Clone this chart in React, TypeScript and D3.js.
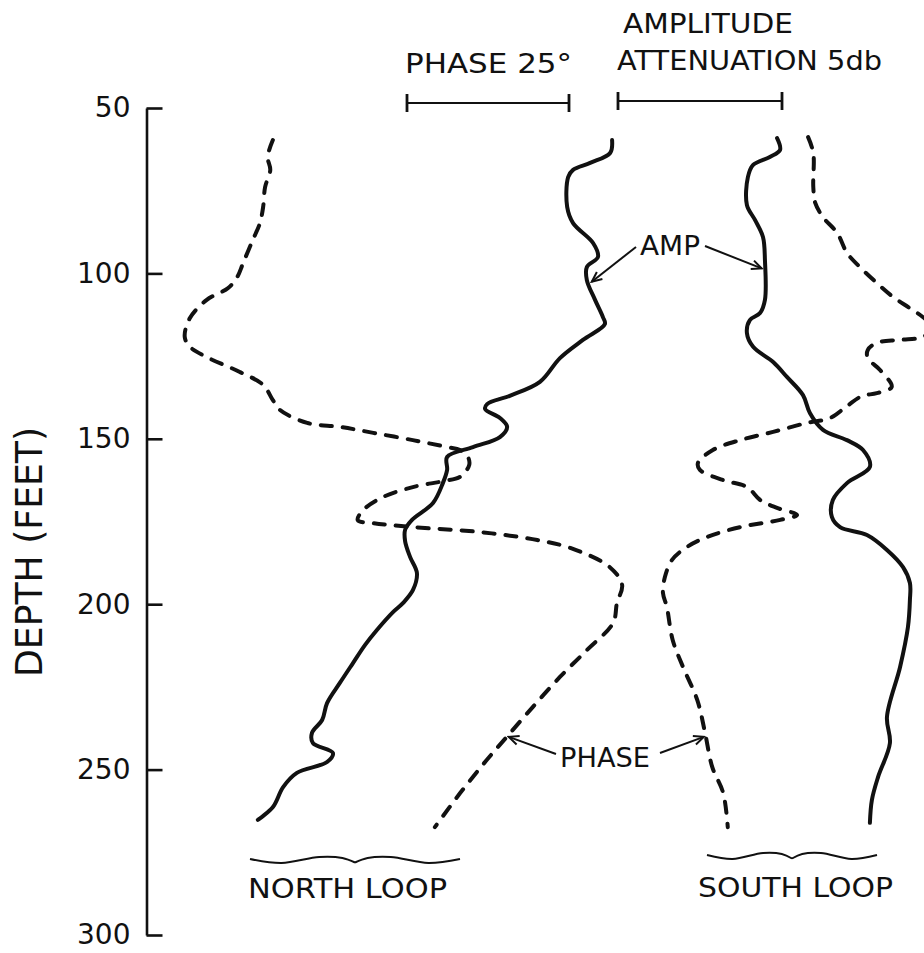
import React, { useEffect, useRef } from "react";
import * as d3 from "d3";

// Depth axis (feet)
const DEPTH_TICKS = [50, 100, 150, 200, 250, 300];

// Each profile: [depth (ft), value]. Amplitude in dB, phase in degrees (relative).
const northAmp: [number, number][] = [
  [59.7, -0.18], [63.6, -0.24], [66.6, -0.85], [68.7, -1.37], [70.9, -1.52],
  [79.9, -1.55], [84.8, -1.37], [90.8, -0.76], [95.0, -0.61], [98.1, -0.95],
  [102.0, -0.95], [108.0, -0.7], [113.2, -0.46], [115.3, -0.4], [120.1, -1.07],
  [125.6, -1.77], [132.8, -2.38], [137.0, -3.3], [139.5, -3.99], [141.0, -4.05],
  [143.7, -3.6], [146.4, -3.38], [149.5, -3.6], [152.5, -4.42], [155.5, -5.21],
  [159.4, -5.21], [163.4, -5.34], [169.4, -5.64], [174.5, -6.28], [177.5, -6.49],
  [181.0, -6.49], [185.7, -6.34], [190.6, -6.13], [195.7, -6.25], [199.6, -6.55],
  [202.4, -6.86], [207.8, -7.35], [212.3, -7.71], [217.8, -8.08], [223.8, -8.48],
  [229.9, -8.87], [235.0, -9.02], [238.9, -9.33], [242.0, -9.3], [245.0, -8.69],
  [247.7, -8.87], [251.0, -9.79], [255.3, -10.21], [261.3, -10.52], [265.2, -10.98],
];

const northPhase: [number, number][] = [
  [59.7, -20.7], [64.8, -21.5], [68.7, -21.1], [73.9, -21.9], [79.9, -22.2],
  [84.8, -22.7], [89.9, -23.8], [96.9, -25.3], [101.1, -26.2], [104.4, -27.6],
  [108.0, -30.9], [113.5, -33.5], [119.2, -34.3], [122.2, -33.5], [125.3, -30.9],
  [129.8, -25.8], [133.7, -22.2], [138.3, -20.7], [141.3, -19.6], [145.2, -15.4],
  [146.4, -10.3], [148.2, -5.2], [150.4, 0.9], [152.5, 6.2], [153.4, 8.2],
  [155.5, 9.4], [157.9, 9.6], [161.5, 8.2], [162.8, 5.6], [164.6, 0.9],
  [167.6, -3.7], [171.6, -6.8], [174.6, -7.6], [175.5, -5.2], [176.7, 0.9],
  [178.2, 11.3], [180.6, 20.1], [183.0, 25.2], [188.8, 31.3], [194.2, 33.2],
  [199.6, 32.4], [205.7, 31.8], [213.8, 27.8], [222.0, 23.6], [231.1, 19.4],
  [240.1, 15.4], [247.1, 12.3], [257.1, 8.2], [267.4, 4.3],
];

const southAmp: [number, number][] = [
  [59.1, 4.85], [62.7, 4.94], [64.8, 4.63], [67.2, 4.12], [70.9, 3.96],
  [79.3, 3.93], [83.9, 4.18], [89.0, 4.42], [96.0, 4.48], [108.0, 4.48],
  [112.0, 4.33], [114.1, 4.02], [118.0, 3.93], [122.2, 4.12], [126.8, 4.73],
  [131.3, 5.15], [136.8, 5.64], [142.2, 5.85], [147.3, 6.25], [150.4, 6.98],
  [153.4, 7.47], [158.5, 7.68], [163.4, 6.98], [168.5, 6.55], [173.6, 6.52],
  [176.7, 6.77], [179.1, 7.59], [183.6, 8.2], [188.8, 8.69], [193.6, 8.9],
  [198.7, 8.9], [206.9, 8.84], [219.0, 8.6], [234.1, 8.2], [242.0, 8.29],
  [252.2, 7.93], [259.2, 7.74], [266.1, 7.68],
];

const southPhase: [number, number][] = [
  [58.8, 61.9], [63.6, 62.7], [73.9, 62.7], [78.7, 63.0], [83.0, 64.2],
  [87.8, 66.4], [93.8, 67.9], [98.1, 69.9], [102.9, 72.5], [107.1, 75.0],
  [110.5, 77.6], [113.2, 79.6], [116.2, 81.2], [119.2, 79.6], [120.1, 76.1],
  [121.0, 72.5], [123.2, 71.1], [125.6, 71.1], [129.2, 73.0], [134.3, 74.8],
  [136.2, 72.5], [137.1, 70.2], [140.1, 67.9], [143.7, 65.3], [145.2, 61.7],
  [147.9, 56.5], [150.4, 51.4], [153.4, 47.2], [157.3, 44.9], [159.4, 45.2],
  [162.5, 48.8], [164.6, 52.5], [168.5, 54.5], [170.9, 57.1], [173.0, 60.2],
  [174.5, 57.6], [176.7, 51.4], [179.7, 46.3], [182.7, 43.2], [186.6, 40.9],
  [191.8, 39.8], [196.6, 39.5], [200.8, 40.1], [210.8, 41.0], [219.0, 42.6],
  [229.0, 44.8], [238.9, 46.0], [249.2, 47.1], [257.1, 48.8], [267.4, 49.5],
];

// Scale bars shown above the plot
const PHASE_BAR = [0, 25]; // degrees
const AMP_BAR = [0, 5]; // dB

const FONT = "'DejaVu Sans', 'Liberation Sans', sans-serif";
const INK = "#111";

export default function App() {
  const axisRef = useRef<SVGGElement>(null);

  const width = 924;
  const height = 953;

  const y = d3.scaleLinear().domain([50, 300]).range([108, 935]);
  const phaseX = d3.scaleLinear().domain([0, 25]).range([407, 569]);
  const ampX = d3.scaleLinear().domain([0, 5]).range([618, 782]);

  const axisX = 146.5;

  useEffect(() => {
    if (!axisRef.current) return;
    const g = d3.select(axisRef.current);
    g.selectAll("*").remove();
    g.call(
      d3
        .axisLeft(y)
        .tickValues(DEPTH_TICKS)
        .tickSize(-16)
        .tickSizeOuter(0)
        .tickPadding(16)
        .tickFormat((d) => String(d))
    );
    g.attr("font-family", null).attr("font-size", null);
    g.select(".domain").attr("stroke", INK).attr("stroke-width", 2.6);
    g.selectAll(".tick line").attr("stroke", INK).attr("stroke-width", 2.6);
    g.selectAll(".tick text")
      .attr("fill", INK)
      .style("font-family", FONT)
      .style("font-size", "28px");
  }, []);

  const ampLine = d3
    .line<[number, number]>()
    .x((d) => ampX(d[1]))
    .y((d) => y(d[0]))
    .curve(d3.curveCatmullRom.alpha(0.5));

  const phaseLine = d3
    .line<[number, number]>()
    .x((d) => phaseX(d[1]))
    .y((d) => y(d[0]))
    .curve(d3.curveCatmullRom.alpha(0.5));

  // Curly brace under each loop's pair of profiles
  const braceHalf = d3
    .line<[number, number]>()
    .curve(d3.curveCatmullRom.alpha(0.5));
  const brace = (x0: number, x1: number, yb: number) => {
    const w = x1 - x0;
    const left: [number, number][] = [
      [0, 0], [0.15, 4], [0.33, -2], [0.44, -1], [0.5, 3.5],
    ].map(([t, o]) => [x0 + t * w, yb + o] as [number, number]);
    const right: [number, number][] = [
      [0.5, 3.5], [0.56, -1], [0.67, -2], [0.85, 4], [1, 0],
    ].map(([t, o]) => [x0 + t * w, yb + o] as [number, number]);
    return (braceHalf(left) || "") + (braceHalf(right) || "");
  };

  // Annotation arrows: label point -> [depth, value] on a profile
  const ampArrows = [
    { from: [636, 247], to: [ampX(-0.8), y(102.5)] },
    { from: [705, 246], to: [ampX(4.38), y(98.5)] },
  ];
  const phaseArrows = [
    { from: [556, 754], to: [phaseX(15.7), y(240.1)] },
    { from: [660, 753], to: [phaseX(45.8), y(240.1)] },
  ];

  const curveStyle = {
    fill: "none",
    stroke: INK,
    strokeWidth: 4,
    strokeLinecap: "round" as const,
    strokeLinejoin: "round" as const,
  };

  const textStyle = { fontFamily: FONT, fontSize: 27, fill: INK };

  const bar = (x0: number, x1: number, yy: number, key: string) => (
    <g key={key} stroke={INK} strokeWidth={2.2}>
      <line x1={x0} x2={x1} y1={yy} y2={yy} />
      <line x1={x0} x2={x0} y1={yy - 9} y2={yy + 9} strokeWidth={2.8} />
      <line x1={x1} x2={x1} y1={yy - 9} y2={yy + 9} strokeWidth={2.8} />
    </g>
  );

  return (
    <svg
      width={width}
      height={height}
      viewBox={`0 0 ${width} ${height}`}
      style={{ position: "absolute", left: 0, top: 0, display: "block", background: "#fff" }}
    >
      <defs>
        <marker
          id="arrow"
          viewBox="-12 -6 14 12"
          markerWidth={14}
          markerHeight={12}
          refX={0}
          refY={0}
          orient="auto"
          markerUnits="userSpaceOnUse"
        >
          <path d="M-10,-4.5 L0,0 L-10,4.5" fill="none" stroke={INK} strokeWidth={2} />
        </marker>
      </defs>
      <rect width={width} height={height} fill="#fff" />

      {/* depth axis */}
      <g ref={axisRef} transform={`translate(${axisX},0)`} />
      <text
        transform={`translate(42,552) rotate(-90)`}
        textAnchor="middle"
        style={{ fontFamily: FONT, fontSize: 37, fill: INK }}
        textLength={250}
        lengthAdjust="spacingAndGlyphs"
      >
        DEPTH (FEET)
      </text>

      {/* scale bars */}
      <text x={405} y={73} style={textStyle} textLength={167} lengthAdjust="spacingAndGlyphs">
        PHASE 25°
      </text>
      {bar(phaseX(PHASE_BAR[0]), phaseX(PHASE_BAR[1]), 103, "pb")}
      <text x={623} y={33} style={textStyle} textLength={170} lengthAdjust="spacingAndGlyphs">
        AMPLITUDE
      </text>
      <text x={617} y={70} style={textStyle} textLength={265} lengthAdjust="spacingAndGlyphs">
        ATTENUATION 5db
      </text>
      {bar(ampX(AMP_BAR[0]), ampX(AMP_BAR[1]), 101, "ab")}

      {/* profiles */}
      <path d={ampLine(northAmp) || ""} style={curveStyle} />
      <path d={ampLine(southAmp) || ""} style={curveStyle} />
      <path d={phaseLine(northPhase) || ""} style={{ ...curveStyle, strokeDasharray: "11 11" }} />
      <path d={phaseLine(southPhase) || ""} style={{ ...curveStyle, strokeDasharray: "11 11" }} />

      {/* labels with arrows */}
      <text x={640} y={255} style={textStyle} textLength={60} lengthAdjust="spacingAndGlyphs">
        AMP
      </text>
      {ampArrows.map((a, i) => (
        <line
          key={"aa" + i}
          x1={a.from[0]}
          y1={a.from[1]}
          x2={a.to[0]}
          y2={a.to[1]}
          stroke={INK}
          strokeWidth={2}
          markerEnd="url(#arrow)"
        />
      ))}
      <text x={560} y={767} style={textStyle} textLength={90} lengthAdjust="spacingAndGlyphs">
        PHASE
      </text>
      {phaseArrows.map((a, i) => (
        <line
          key={"pa" + i}
          x1={a.from[0]}
          y1={a.from[1]}
          x2={a.to[0]}
          y2={a.to[1]}
          stroke={INK}
          strokeWidth={2}
          markerEnd="url(#arrow)"
        />
      ))}

      {/* loop groupings */}
      <path d={brace(250, 460, 859)} fill="none" stroke={INK} strokeWidth={2} />
      <text x={248} y={898} style={textStyle} textLength={199} lengthAdjust="spacingAndGlyphs">
        NORTH LOOP
      </text>
      <path d={brace(707, 877, 855)} fill="none" stroke={INK} strokeWidth={2} />
      <text x={698} y={897} style={textStyle} textLength={195} lengthAdjust="spacingAndGlyphs">
        SOUTH LOOP
      </text>
    </svg>
  );
}
